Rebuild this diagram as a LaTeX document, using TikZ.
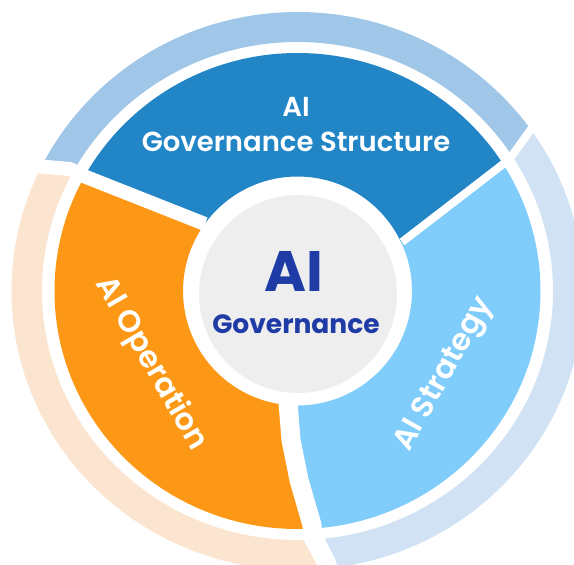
\documentclass[tikz,border=0pt]{standalone}
\usepackage{fontspec}
\setmainfont{Poppins}[BoldFont={Poppins SemiBold}]
\newfontfamily\corefont{Poppins Bold}
\definecolor{segblue}{HTML}{2185C6}
\definecolor{segorange}{HTML}{FD9816}
\definecolor{seglight}{HTML}{80CDFC}
\definecolor{bandblue}{HTML}{A0C6E8}
\definecolor{bandpeach}{HTML}{FBE5D0}
\definecolor{bandlight}{HTML}{D0E2F3}
\definecolor{coregrey}{HTML}{EEEEEE}
\definecolor{coretext}{HTML}{1F3BA6}
\tikzset{
  lbl/.style={text=white, inner sep=0pt, font=\bfseries\fontsize{27.5}{27.5}\selectfont},
  ctr/.style={text=coretext, inner sep=0pt, font=\corefont\fontsize{26.5}{26.5}\selectfont},
  gapline/.style={draw=white, line join=round, line cap=butt}
}
\begin{document}
\begin{tikzpicture}[x=1pt,y=-1pt]
\useasboundingbox (0,0) rectangle (574,565);
\coordinate (C) at (297.5,291);
% gap way-points
\coordinate (a1) at (205,224); \coordinate (a2) at (81,175); \coordinate (a3) at (70,169); \coordinate (a4) at (35,166); \coordinate (a5) at (-40,161);
\coordinate (b1) at (402,242); \coordinate (b2) at (502,165); \coordinate (b3) at (511,157); \coordinate (b4) at (529,132); \coordinate (b5) at (600,33);
\coordinate (c1) at (288,402); \coordinate (c2) at (291,440); \coordinate (c3) at (299,480); \coordinate (c4) at (312,525); \coordinate (c5) at (313,537); \coordinate (c6) at (326,562); \coordinate (c7) at (345,620);
% blue sector
\begin{scope}
\clip (C) -- (a1) -- (a2) -- (a3) -- (a4) -- (a5) -- (-40,-60) -- (640,-60) -- (b5) -- (b4) -- (b3) -- (b2) -- (b1) -- cycle;
\fill[segblue, even odd rule] (C) ellipse [x radius=243, y radius=238] (C) circle [radius=114.5];
\fill[bandblue, even odd rule] (C) ellipse [x radius=286, y radius=279] (C) ellipse [x radius=255.5, y radius=249];
\end{scope}
% light blue sector
\begin{scope}
\clip (C) -- (b1) -- (b2) -- (b3) -- (b4) -- (b5) -- (700,33) -- (700,650) -- (c7) -- (c6) -- (c5) -- (c4) -- (c3) -- (c2) -- (c1) -- cycle;
\fill[seglight, even odd rule] (C) ellipse [x radius=243, y radius=238] (C) circle [radius=114.5];
\fill[bandlight, even odd rule] (C) ellipse [x radius=286, y radius=279] (C) ellipse [x radius=255.5, y radius=249];
\end{scope}
% orange sector
\begin{scope}
\clip (C) -- (c1) -- (c2) -- (c3) -- (c4) -- (c5) -- (c6) -- (c7) -- (-100,650) -- (-100,161) -- (a5) -- (a4) -- (a3) -- (a2) -- (a1) -- cycle;
\fill[segorange, even odd rule] (C) ellipse [x radius=243, y radius=238] (C) circle [radius=114.5];
\fill[bandpeach, even odd rule] (C) ellipse [x radius=286, y radius=279] (C) ellipse [x radius=255.5, y radius=249];
\end{scope}
% white gaps
\draw[gapline, line width=14pt] (a1) -- (a2) -- (a3) -- (a4) -- (a5);
\draw[gapline, line width=8pt] (b1) -- (b2) -- (b3) -- (b4) -- (b5);
\draw[gapline, line width=19pt] (c1) -- (c2) -- (c3) -- (c4) -- (c5) -- (c6) -- (c7);
% core
\node[circle, fill=coregrey, minimum size=198pt, inner sep=0pt] (core) at (298,294) {};
\node[ctr, font=\corefont\fontsize{57}{57}\selectfont] (coreAI) at (294,271) {AI};
\node[ctr] (coreGov) at (296,324) {Governance};
% labels
\node[lbl] (topAI) at (296,107) {AI};
\node[lbl] (topGS) at (296,142) {Governance Structure};
\node[lbl, rotate=-60, font=\bfseries\fontsize{30.5}{30.5}\selectfont] (opLbl) at (151,364) {AI Operation};
\node[lbl, rotate=61, font=\bfseries\fontsize{30.5}{30.5}\selectfont] (stLbl) at (445,375) {AI Strategy};
\end{tikzpicture}
\end{document}
